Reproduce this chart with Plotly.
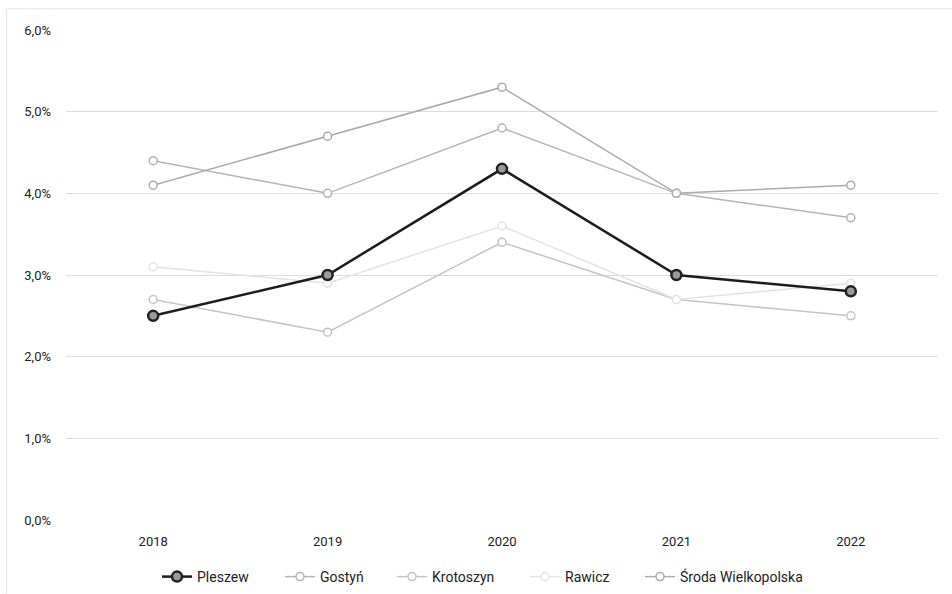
import plotly.graph_objects as go

years = ["2018", "2019", "2020", "2021", "2022"]
pleszew = [2.5, 3.0, 4.3, 3.0, 2.8]
gostyn = [4.4, 4.0, 4.8, 4.0, 3.7]
krotoszyn = [2.7, 2.3, 3.4, 2.7, 2.5]
rawicz = [3.1, 2.9, 3.6, 2.7, 2.9]
sroda = [4.1, 4.7, 5.3, 4.0, 4.1]
y_ticks = [0, 1, 2, 3, 4, 5, 6]
y_tick_labels = ["0,0%", "1,0%", "2,0%", "3,0%", "4,0%", "5,0%", "6,0%"]

W, H = 952, 594

# (name, values, colour, legend id, legend left edge in px)
series = [
    ("Gostyń", gostyn, "#b4b4b4", "legend2", 280),
    ("Krotoszyn", krotoszyn, "#c4c4c4", "legend3", 392),
    ("Rawicz", rawicz, "#e2e2e2", "legend4", 525),
    ("Środa Wielkopolska", sroda, "#ababab", "legend5", 640),
]

fig = go.Figure()
for name, vals, col, leg, _ in series:
    fig.add_trace(go.Scatter(
        x=years, y=vals, name=name, mode="lines+markers",
        line=dict(color=col, width=1.5),
        marker=dict(symbol="circle", size=8, color="white", line=dict(color=col, width=1.5)),
        legend=leg,
    ))
fig.add_trace(go.Scatter(
    x=years, y=pleszew, name="Pleszew", mode="lines+markers",
    line=dict(color="#1c1c1c", width=2.5),
    marker=dict(symbol="circle", size=10, color="#9a9a9a", line=dict(color="#222222", width=2.5)),
    legend="legend",
))

def leg_cfg(px_left):
    return dict(orientation="h", x=px_left / W, xanchor="left", xref="container",
                y=1 - 577 / H, yanchor="middle", yref="container",
                font=dict(size=14, color="#222222"), bgcolor="rgba(0,0,0,0)")

legends = {"legend": leg_cfg(157)}
for name, vals, col, leg, px in series:
    legends[leg] = leg_cfg(px)

fig.update_layout(
    width=W, height=H,
    margin=dict(l=66, r=14, t=30, b=68),
    paper_bgcolor="white", plot_bgcolor="white",
    font=dict(family="Roboto", size=13, color="#222222"),
    showlegend=True,
    shapes=[
        dict(type="line", xref="paper", yref="paper", x0=-0.068, x1=1.02, y0=1.043, y1=1.043,
             line=dict(color="#e2e2e2", width=1), layer="below"),
        dict(type="line", xref="paper", yref="paper", x0=-0.068, x1=-0.068, y0=-0.15, y1=1.043,
             line=dict(color="#e2e2e2", width=1), layer="below"),
    ],
    **legends,
)
fig.update_xaxes(type="category", range=[-0.5, 4.5], showgrid=False, showline=False,
                 ticks="", ticklabelstandoff=12, tickfont=dict(size=13))
fig.update_yaxes(range=[0, 6], tickvals=y_ticks, ticktext=y_tick_labels,
                 showgrid=True, gridcolor="#dcdcdc", gridwidth=1, zeroline=False,
                 showline=False, ticklabelstandoff=14, tickfont=dict(size=13))

fig.write_html("out.html", post_script="document.body.style.margin='0';",
               config={"displayModeBar": False})
